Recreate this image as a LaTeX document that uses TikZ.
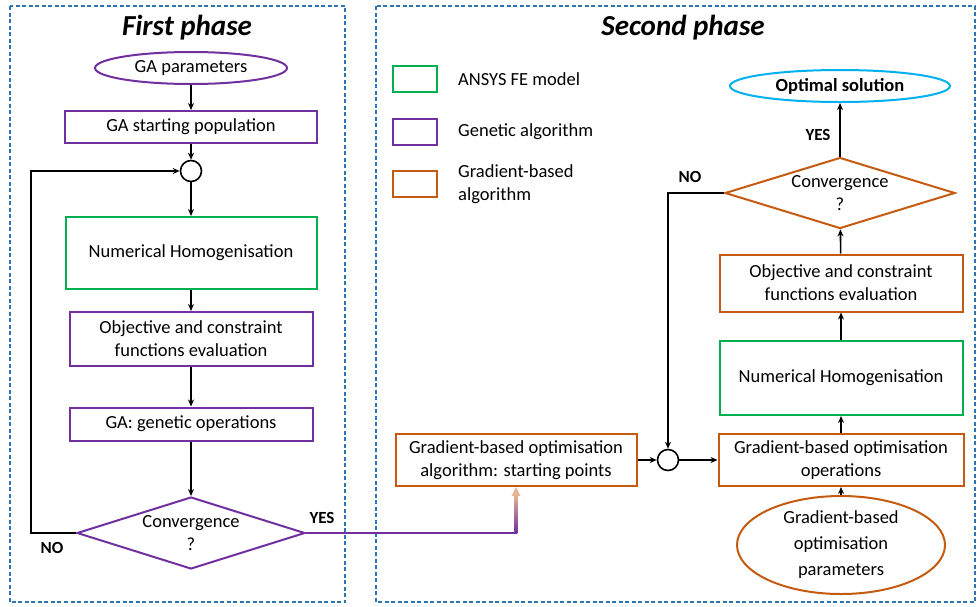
\documentclass[tikz,border=0pt]{standalone}
\usepackage{fontspec}
\setmainfont{Carlito}
\usetikzlibrary{shapes.geometric,arrows.meta,positioning}
\definecolor{fegreen}{RGB}{0,176,80}
\definecolor{gapurple}{RGB}{112,48,160}
\definecolor{gborange}{RGB}{197,90,17}
\definecolor{optblue}{RGB}{0,176,240}
\definecolor{frameblue}{RGB}{46,117,182}

\begin{document}
\begin{tikzpicture}[x=1pt,y=-1pt,font=\fontsize{18.5}{23}\selectfont,
                     >={Stealth[length=7pt,width=6pt]},
                     frame/.style={frameblue,line width=1.4pt,dash pattern=on 4pt off 2.5pt},
                     title/.style={font=\fontsize{29}{34}\selectfont\bfseries\itshape},
                     box/.style={draw,line width=2pt,inner sep=0pt,align=center},
                     term/.style={ellipse,draw,line width=2pt,inner sep=0pt,align=center},
                     decision/.style={diamond,draw,line width=2pt,inner sep=0pt,aspect=3.2,align=center},
                     junction/.style={circle,draw,line width=1.6pt,minimum size=21pt,inner sep=0pt},
                     legbox/.style={draw,line width=2pt,minimum width=44pt,minimum height=26pt,inner sep=0pt},
                     legtext/.style={align=left,inner sep=0pt},
                     lbl/.style={font=\fontsize{17}{20}\selectfont\bfseries},
                     arr/.style={->,line width=1.6pt}]
                     \useasboundingbox (0,0) rectangle (979,606);
                     \draw[frame] (10,6) rectangle (345,602);
                     \draw[frame] (376,6) rectangle (975,602);
                     \node[title] (t1) at (187,28) {First phase};
                     \node[title] (t2) at (683,28) {Second phase};
                     \node[term,draw=gapurple,minimum width=192pt,minimum height=32pt] (gapar) at (191,68) {GA parameters};
                     \node[box,draw=gapurple,minimum width=252pt,minimum height=32pt] (gastart) at (191,127) {GA starting population};
                     \node[junction] (j1) at (191,171) {};
                     \node[box,draw=fegreen,minimum width=251pt,minimum height=72pt] (hom1) at (191,253) {Numerical Homogenisation};
                     \node[box,draw=gapurple,minimum width=243pt,minimum height=54pt] (obj1) at (191,339) {Objective and constraint\\functions evaluation};
                     \node[box,draw=gapurple,minimum width=243pt,minimum height=33pt] (gaop) at (191,424) {GA: genetic operations};
                     \node[decision,draw=gapurple,minimum width=228pt,minimum height=72pt] (conv1) at (191,533) {Convergence\\?};
                     \node[lbl] (no1) at (52,548) {NO};
                     \node[lbl] (yes1) at (322,518) {YES};
                     \node[legbox,draw=fegreen] (lg1) at (415,79) {};
                     \node[legbox,draw=gapurple] (lg2) at (415,132) {};
                     \node[legbox,draw=gborange] (lg3) at (415,184) {};
                     \node[legtext,right=20pt of lg1] (lt1) {ANSYS FE model};
                     \node[legtext,right=20pt of lg2] (lt2) {Genetic algorithm};
                     \node[legtext,right=20pt of lg3] (lt3) {Gradient-based\\algorithm};
                     \node[box,draw=gborange,minimum width=241pt,minimum height=52pt] (spts) at (516,460) {Gradient-based optimisation\\algorithm: starting points};
                     \node[junction] (j2) at (668,460) {};
                     \node[box,draw=gborange,minimum width=245pt,minimum height=52pt] (gbop) at (841,460) {Gradient-based optimisation\\operations};
                     \node[term,draw=gborange,minimum width=208pt,minimum height=98pt,font=\fontsize{18.5}{26}\selectfont] (gbpar) at (841,545) {Gradient-based\\optimisation\\parameters};
                     \node[box,draw=fegreen,minimum width=243pt,minimum height=74pt] (hom2) at (841,378) {Numerical Homogenisation};
                     \node[box,draw=gborange,minimum width=243pt,minimum height=57pt] (obj2) at (841,283) {Objective and constraint\\functions evaluation};
                     \node[decision,draw=gborange,minimum width=230pt,minimum height=71pt] (conv2) at (840,193) {Convergence\\?};
                     \node[term,draw=optblue,minimum width=220pt,minimum height=32pt,font=\fontsize{18.5}{23}\selectfont\bfseries] (opt) at (840,86) {Optimal solution};
                     \node[lbl] (yes2) at (818,135) {YES};
                     \node[lbl] (no2) at (690,177) {NO};
                     \draw[arr] (gapar) -- (gastart);
                     \draw[arr] (gastart) -- (j1);
                     \draw[arr] (j1) -- (hom1);
                     \draw[arr] (hom1) -- (obj1);
                     \draw[arr] (obj1) -- (gaop);
                     \draw[arr] (gaop) -- (conv1);
                     \draw[arr] (conv1.west) -- ++(-45,0) |- (j1);
                     \draw[gapurple,line width=2.8pt] (conv1.east) -- ([xshift=1.4pt]spts.south |- conv1.east);
                     \shade[bottom color=gapurple,top color=gborange!45] ([xshift=-1.4pt]spts.south |- conv1.east) rectangle ([xshift=1.4pt,yshift=-8pt]spts.south);
                     \fill[gborange!45] (spts.south) -- ++(-4.5,9) -- ++(9,0) -- cycle;
                     \draw[arr] (spts) -- (j2);
                     \draw[arr] (j2) -- (gbop);
                     \draw[arr] (gbpar) -- (gbop);
                     \draw[arr] (gbop) -- (hom2);
                     \draw[arr] (hom2) -- (obj2);
                     \draw[arr] (obj2) -- (conv2);
                     \draw[arr] (conv2) -- (opt);
                     \draw[arr] (conv2.west) -| (j2);
                   \end{tikzpicture}
\end{document}
